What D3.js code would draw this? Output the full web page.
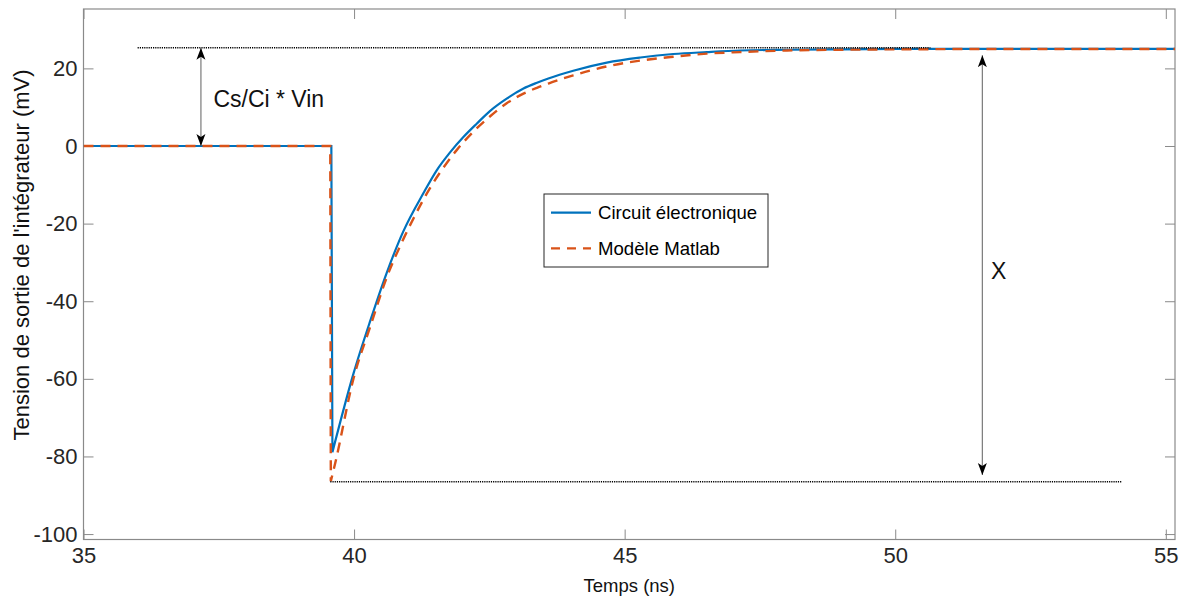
<!DOCTYPE html>
<html>
<head>
<meta charset="utf-8">
<script src="https://cdn.jsdelivr.net/npm/d3@7"></script>
<style>
  body { margin: 0; background: #fff; }
  text { font-family: "Liberation Sans", Arial, sans-serif; }
</style>
</head>
<body>
<svg id="chart" width="1186" height="601"></svg>
<script>
// temps (ns) / tension (mV)
var blueT = [35, 39.58, 39.60, 39.99, 40.30, 40.60, 40.91, 41.28, 41.53, 41.77, 42.02, 42.27, 42.51, 42.82, 43.13, 43.38, 43.59, 44.05, 44.67, 45.29, 45.90, 46.52, 47.13, 48, 49, 50, 52, 55.5];
var blueV = [0, 0, -78.9, -58.6, -45.0, -32.8, -22.0, -12.2, -6.2, -1.7, 2.3, 5.8, 9.0, 12.2, 14.8, 16.3, 17.4, 19.4, 21.5, 22.8, 23.7, 24.2, 24.6, 24.8, 24.9, 25, 25, 25];
var orangeT = [35, 39.56, 39.57, 39.65, 39.99, 40.30, 40.60, 40.91, 41.10, 41.40, 41.65, 41.90, 42.27, 42.51, 42.82, 43.13, 43.38, 43.59, 44.05, 44.67, 45.29, 45.90, 46.52, 47.13, 48, 49, 50, 52, 55.5];
var orangeV = [0, 0, -86.4, -81.8, -59.9, -46.5, -34.0, -24.0, -18.6, -10.9, -5.6, -1.0, 4.6, 7.6, 11.0, 13.5, 15.0, 16.1, 18.2, 20.5, 22.0, 23.0, 23.8, 24.2, 24.6, 24.8, 24.9, 25, 25];
var seriesNames = ["Circuit électronique", "Modèle Matlab"];
var xTicks = [35, 40, 45, 50, 55];
var yTicks = [-100, -80, -60, -40, -20, 0, 20];

// annotations: dotted reference levels and double arrows
var dotLevels = [{ x0: 36.0, x1: 50.65, y: 25.3 }, { x0: 39.56, x1: 54.19, y: -86.5 }];
var arrows = [{ x: 37.17, y0: 25.3, y1: 0 }, { x: 51.61, y0: 23.4, y1: -84.8 }];
var notes = [{ x: 37.4, y: 10, t: "Cs/Ci * Vin" }, { x: 51.77, y: -34.3, t: "X" }];

const margin = { top: 9, right: 11, bottom: 61.5, left: 83.5 };
const width = 1186 - margin.left - margin.right;
const height = 601 - margin.top - margin.bottom;

const svg = d3.select("#chart");
const defs = svg.append("defs");
defs.append("clipPath").attr("id", "clip")
  .append("rect").attr("width", width).attr("height", height);
defs.append("marker")
  .attr("id", "head")
  .attr("viewBox", "0 0 12 10")
  .attr("refX", 12).attr("refY", 5)
  .attr("markerWidth", 12).attr("markerHeight", 10)
  .attr("markerUnits", "userSpaceOnUse")
  .attr("orient", "auto-start-reverse")
  .append("path").attr("d", "M0,0.5 L12,5 L0,9.5 L3,5 Z").attr("fill", "#000");

const g = svg.append("g").attr("transform", `translate(${margin.left},${margin.top})`);

const xScale = d3.scaleLinear().domain([35, 55.17]).range([0, width]);
const yScale = d3.scaleLinear().domain([-101.4, 35.3]).range([height, 0]);

// axes with inward ticks on all four sides
const axisColor = "#8a8a8a";
const fmt = d => String(d);   // plain hyphen like matlab
function styleAxis(sel) {
  sel.select(".domain").remove();
  sel.selectAll(".tick line").attr("stroke", axisColor);
  sel.selectAll(".tick text").attr("fill", "#262626").style("font-size", "22px");
}
g.append("g").attr("transform", `translate(0,${height})`)
  .call(d3.axisBottom(xScale).tickValues(xTicks).tickFormat(fmt).tickSizeInner(-10).tickSizeOuter(0).tickPadding(8))
  .call(styleAxis);
g.append("g")
  .call(d3.axisTop(xScale).tickValues(xTicks).tickSizeInner(-10).tickSizeOuter(0).tickFormat(""))
  .call(styleAxis);
g.append("g")
  .call(d3.axisLeft(yScale).tickValues(yTicks).tickFormat(fmt).tickSizeInner(-10).tickSizeOuter(0).tickPadding(6))
  .call(styleAxis);
g.append("g").attr("transform", `translate(${width},0)`)
  .call(d3.axisRight(yScale).tickValues(yTicks).tickSizeInner(-10).tickSizeOuter(0).tickFormat(""))
  .call(styleAxis);
g.append("rect").attr("width", width).attr("height", height)
  .attr("fill", "none").attr("stroke", axisColor).attr("stroke-width", 1.2);

// straight drop down to the minimum, smooth recovery after it
const lineLin = d3.line().x(d => xScale(d[0])).y(d => yScale(d[1]));
const lineSmooth = d3.line().x(d => xScale(d[0])).y(d => yScale(d[1])).curve(d3.curveMonotoneX);
function tracePath(T, V, iMin) {
  const pts = d3.zip(T, V);
  return lineLin(pts.slice(0, iMin + 1)) + lineSmooth(pts.slice(iMin)).replace(/^M/, "L");
}
const plot = g.append("g").attr("clip-path", "url(#clip)");

plot.append("path")
  .attr("d", tracePath(blueT, blueV, 2))
  .attr("fill", "none").attr("stroke", "#0072BD").attr("stroke-width", 2.2);
plot.append("path")
  .attr("d", tracePath(orangeT, orangeV, 2))
  .attr("fill", "none").attr("stroke", "#D95319").attr("stroke-width", 2.4)
  .attr("stroke-dasharray", "10,7");

// dotted levels
g.selectAll(".lvl").data(dotLevels).enter().append("line")
  .attr("x1", d => xScale(d.x0)).attr("x2", d => xScale(d.x1))
  .attr("y1", d => yScale(d.y)).attr("y2", d => yScale(d.y))
  .attr("stroke", "#000").attr("stroke-width", 1.6).attr("stroke-dasharray", "1.2,1");

// double arrows
g.selectAll(".arr").data(arrows).enter().append("line")
  .attr("x1", d => xScale(d.x)).attr("x2", d => xScale(d.x))
  .attr("y1", d => yScale(d.y0)).attr("y2", d => yScale(d.y1))
  .attr("stroke", "#7a7a7a").attr("stroke-width", 1.2)
  .attr("marker-start", "url(#head)").attr("marker-end", "url(#head)");

g.selectAll(".note").data(notes).enter().append("text")
  .attr("x", d => xScale(d.x)).attr("y", d => yScale(d.y))
  .style("font-size", "23px").attr("fill", "#111")
  .text(d => d.t);

// legend
const leg = g.append("g").attr("transform", `translate(${544 - margin.left},${194 - margin.top})`);
leg.append("rect").attr("width", 224).attr("height", 73)
  .attr("fill", "#fff").attr("stroke", "#262626").attr("stroke-width", 1);
const legStyle = [{ c: "#0072BD", dash: null }, { c: "#D95319", dash: "9,7" }];
seriesNames.forEach((name, i) => {
  const yy = 18.7 + i * 35.6;
  leg.append("line").attr("x1", 7).attr("x2", 47).attr("y1", yy).attr("y2", yy)
    .attr("stroke", legStyle[i].c).attr("stroke-width", 2.2)
    .attr("stroke-dasharray", legStyle[i].dash);
  leg.append("text").attr("x", 54).attr("y", yy + 6.5)
    .style("font-size", "18.6px").attr("fill", "#000").text(name);
});

// axis labels
g.append("text")
  .attr("x", width / 2 + 0).attr("y", height + 52)
  .attr("text-anchor", "middle").style("font-size", "18.5px").attr("fill", "#111")
  .text("Temps (ns)");
g.append("text")
  .attr("transform", `translate(${-margin.left + 29},${255 - margin.top}) rotate(-90)`)
  .attr("text-anchor", "middle").style("font-size", "22px").attr("fill", "#111")
  .text("Tension de sortie de l'intégrateur (mV)");
</script>
</body>
</html>
